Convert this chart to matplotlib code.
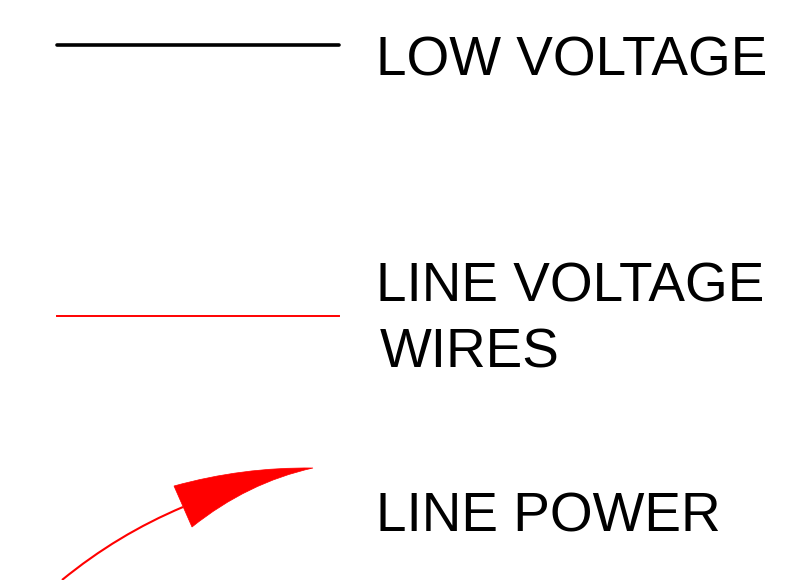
import matplotlib
matplotlib.use('Agg')
import matplotlib.pyplot as plt
from matplotlib.path import Path
from matplotlib.patches import PathPatch

# legend labels (text, x, baseline y) in pixel space of the drawing
labels = ['LOW VOLTAGE', 'LINE VOLTAGE', 'WIRES', 'LINE POWER']
label_x = [376, 376, 380, 376]
label_y = [76, 302, 368, 532]

# legend line samples
line_x = [57, 339]
low_y = 45
line_y = 316

# curved arrow (quadratic beziers: start, control, end)
shaft = [(62, 580), (117.5, 534.5), (183, 507)]
head_top = [(174, 486), (242.5, 467), (313, 468)]
head_bottom = [(313, 468), (247.5, 482.5), (192, 527)]

fig = plt.figure(figsize=(8.03, 5.80), dpi=100)
ax = fig.add_axes([0, 0, 1, 1])
ax.set_xlim(0, 803)
ax.set_ylim(580, 0)
ax.axis('off')

ax.plot(line_x, [low_y, low_y], color='black', lw=2.6, solid_capstyle='round')
ax.plot(line_x, [line_y, line_y], color='red', lw=1.4)

shaft_path = Path(shaft, [Path.MOVETO, Path.CURVE3, Path.CURVE3])
ax.add_patch(PathPatch(shaft_path, fill=False, edgecolor='red', lw=1.5))

head_verts = head_top + head_bottom[1:] + [head_top[0]]
head_codes = [Path.MOVETO, Path.CURVE3, Path.CURVE3, Path.CURVE3, Path.CURVE3, Path.CLOSEPOLY]
ax.add_patch(PathPatch(Path(head_verts, head_codes), facecolor='red', edgecolor='red', lw=0.5))

for txt, x, y in zip(labels, label_x, label_y):
    ax.text(x, y, txt, fontsize=39.5, family='Liberation Sans', va='baseline', ha='left')

fig.savefig('out.png', dpi=100)
